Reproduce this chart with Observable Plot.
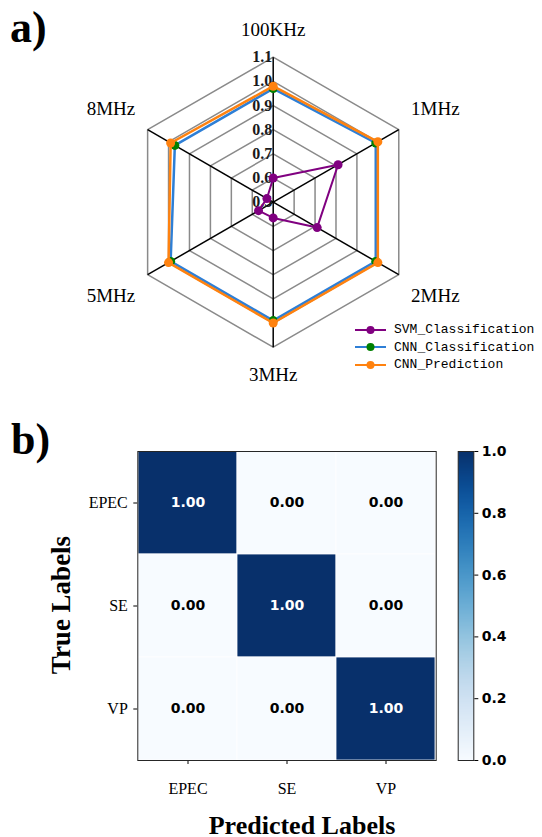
<!DOCTYPE html>
<html>
<head>
<meta charset="utf-8">
<script src="https://cdn.jsdelivr.net/npm/d3@7"></script>
<script src="https://cdn.jsdelivr.net/npm/@observablehq/plot@0.6"></script>
<style>
  body { margin: 0; background: #fff; }
  #wrap { position: relative; width: 542px; height: 837px; overflow: hidden; background: #fff; }
  .panel { position: absolute; font-family: "Liberation Serif", serif; font-weight: bold; font-size: 44px; line-height: 1; }
  .abs { position: absolute; }
  #legend { position: absolute; left: 354px; top: 321px; font-family: "Liberation Mono", monospace; font-size: 13px; color: #000; }
  #legend .row { display: flex; align-items: center; height: 17.5px; }
  #legend svg { margin-right: 7px; }
</style>
</head>
<body>
<div id="wrap">
  <div class="panel" style="left:10px; top:6px;">a)</div>
  <div class="panel" style="left:11px; top:418px;">b)</div>
</div>
<script>
// ---------- data ----------
const freqs = ["100KHz", "1MHz", "2MHz", "3MHz", "5MHz", "8MHz"];
const svmValues = [0.60, 0.81, 0.71, 0.565, 0.57, 0.53];
const cnnClsValues = [0.97, 0.99, 0.99, 0.99, 0.99, 0.97];
const cnnPredValues = [0.98, 1.00, 1.00, 1.00, 1.00, 0.99];
const seriesNames = ["SVM_Classification", "CNN_Classification", "CNN_Prediction"];
const ringLevels = [0.6, 0.7, 0.8, 0.9, 1.0, 1.1];
const ringTickValues = [0.5, 0.6, 0.7, 0.8, 0.9, 1.0, 1.1];

const classes = ["EPEC", "SE", "VP"];
const confusion = [[1, 0, 0], [0, 1, 0], [0, 0, 1]];
const colorbarTicks = [0, 0.2, 0.4, 0.6, 0.8, 1.0];

// ---------- radar ----------
const wrap = document.getElementById("wrap");
const rMin = 0.5, rMax = 1.1;
const cx = 272.7, cy = 201.7, R = 145;
const span = rMax - rMin;
const ang = i => i * Math.PI / 3;
const pt = (v, i) => ({x: (v - rMin) * Math.sin(ang(i)), y: (v - rMin) * Math.cos(ang(i))});

const ringData = ringLevels.flatMap(l => freqs.map((f, i) => ({level: l, ...pt(l, i)})));
const spokes = freqs.map((f, i) => ({f, ...pt(rMax, i)}));
const styles = [
  {line: "#800080", dot: "#800080", w: 2},
  {line: "#2e7fd6", dot: "#008000", w: 2.5},
  {line: "#ff820f", dot: "#ff820f", w: 2.5}
];
const seriesValues = [svmValues, cnnClsValues, cnnPredValues];
const seriesData = seriesValues.map((vals, s) => vals.map((v, i) => ({s, v, ...pt(v, i)})));
const labelData = freqs.map((f, i) => {
  const lr = (i % 3 === 0) ? 0.715 : 0.775;
  return {f, x: lr * Math.sin(ang(i)), y: lr * Math.cos(ang(i))};
});

const serifFont = "Liberation Serif";
const seriesMarks = seriesData.flatMap((d, s) => [
  Plot.line(d, {x: "x", y: "y", curve: "linear-closed", stroke: styles[s].line, strokeWidth: styles[s].w}),
  Plot.dot(d, {x: "x", y: "y", r: 4.5, fill: styles[s].dot, stroke: "none"})
]);

const radar = Plot.plot({
  width: 542, height: 400, margin: 0,
  x: {domain: [-span, span], range: [cx - R, cx + R], axis: null},
  y: {domain: [-span, span], range: [cy + R, cy - R], axis: null},
  marks: [
    Plot.line(ringData, {x: "x", y: "y", z: "level", curve: "linear-closed", stroke: "#8a8a8a", strokeWidth: 1.5}),
    Plot.link(spokes, {x1: 0, y1: 0, x2: "x", y2: "y", stroke: "#000", strokeWidth: 1.5}),
    Plot.text(ringTickValues, {x: 0, y: d => d - rMin, text: d => d.toFixed(1), textAnchor: "end", dx: -1,
      fontSize: 16, fontWeight: "bold", fontFamily: serifFont, fill: "#1a1a1a", ariaLabel: "ring-labels"}),
    ...seriesMarks,
    Plot.text(labelData, {x: "x", y: "y", text: "f", fontSize: 19, fontFamily: serifFont, fill: "#000", lineAnchor: "middle"})
  ]
});
radar.classList.add("abs");
radar.style.left = "0px"; radar.style.top = "0px";
wrap.appendChild(radar);
d3.select(radar).selectAll('g[aria-label="ring-labels"] text').style("letter-spacing", "2px");

// legend
const legend = document.createElement("div");
legend.id = "legend";
seriesNames.forEach((name, s) => {
  const row = document.createElement("div");
  row.className = "row";
  row.innerHTML = `<svg width="33" height="12"><line x1="1" y1="6" x2="32" y2="6" stroke="${styles[s].line}" stroke-width="2"/><circle cx="16.5" cy="6" r="4" fill="${styles[s].dot}"/></svg><span>${name}</span>`;
  legend.appendChild(row);
});
wrap.appendChild(legend);

// ---------- confusion matrix ----------
const cells = classes.flatMap((t, i) => classes.map((p, j) => ({trueLabel: t, pred: p, v: confusion[i][j]})));
const numFont = "DejaVu Sans";
const heat = Plot.plot({
  width: 542, height: 437,
  marginLeft: 137.3, marginRight: 106.3, marginTop: 51, marginBottom: 77,
  style: {fontFamily: serifFont, fontSize: "16px", color: "#000", background: "transparent"},
  x: {domain: classes, padding: 0, tickSize: 4, tickPadding: 18, label: null},
  y: {domain: classes, padding: 0, tickSize: 4, tickPadding: 6, label: null},
  color: {type: "linear", scheme: "blues", domain: [0, 1]},
  marks: [
    Plot.cell(cells, {x: "pred", y: "trueLabel", fill: "v", stroke: "#ffffff", strokeWidth: 0.8}),
    Plot.frame({stroke: "#262626", strokeWidth: 1}),
    Plot.text(cells.filter(d => d.v > 0.5), {x: "pred", y: "trueLabel", text: d => d.v.toFixed(2), fill: "white",
      fontWeight: "bold", fontSize: 14, fontFamily: numFont}),
    Plot.text(cells.filter(d => d.v <= 0.5), {x: "pred", y: "trueLabel", text: d => d.v.toFixed(2), fill: "black",
      fontWeight: "bold", fontSize: 14, fontFamily: numFont}),
    Plot.text(["Predicted Labels"], {frameAnchor: "bottom", text: d => d, dx: 15, dy: 65, lineAnchor: "middle", textAnchor: "middle",
      fontSize: 26, fontWeight: "bold", fontFamily: serifFont, fill: "#000"}),
    Plot.text(["True Labels"], {frameAnchor: "left", text: d => d, dx: -76, dy: -1, rotate: -90, lineAnchor: "middle", textAnchor: "middle",
      fontSize: 27, fontWeight: "bold", fontFamily: serifFont, fill: "#000"})
  ]
});
heat.classList.add("abs");
heat.style.left = "0px"; heat.style.top = "400px";
wrap.appendChild(heat);

// colorbar
const cbar = Plot.plot({
  width: 92, height: 437,
  marginLeft: 7.7, marginRight: 68.7, marginTop: 51, marginBottom: 77,
  style: {fontFamily: numFont, fontSize: "14px", fontWeight: "bold", color: "#000", background: "transparent"},
  x: {domain: [0, 1], axis: null},
  y: {domain: [0, 1], axis: "right", ticks: colorbarTicks, tickFormat: d => d.toFixed(1), tickSize: 4, tickPadding: 4, label: null},
  color: {type: "linear", scheme: "blues", domain: [0, 1]},
  marks: [
    Plot.raster({x1: 0, x2: 1, y1: 0, y2: 1, width: 1, height: 256, fill: (x, y) => y, imageRendering: "auto"}),
    Plot.frame({stroke: "#262626", strokeWidth: 1})
  ]
});
cbar.classList.add("abs");
cbar.style.left = "450px"; cbar.style.top = "400px";
wrap.appendChild(cbar);
</script>
</body>
</html>
